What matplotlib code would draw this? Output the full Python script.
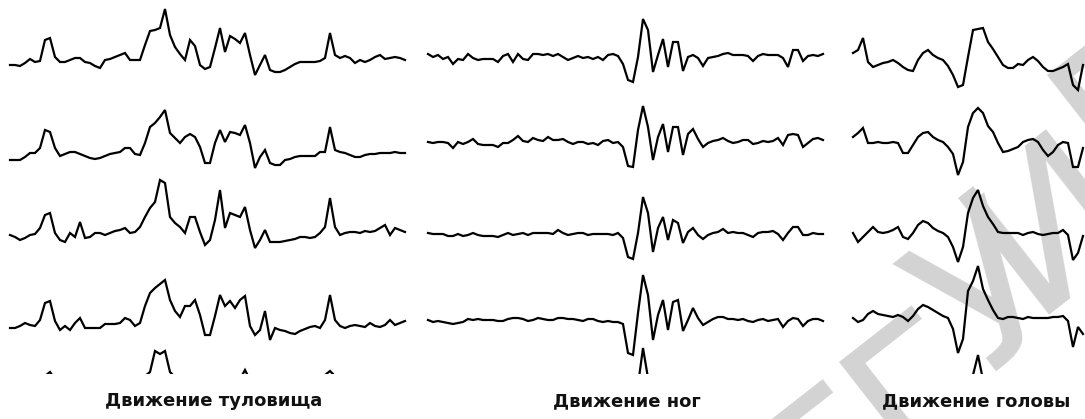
import numpy as np
import matplotlib
matplotlib.use("Agg")
import matplotlib.pyplot as plt

# amplitudes of each channel, one sample every 5 px of the original record
# (arbitrary units, positive = up)
trunk_1 = [-2, -2, -3, 0, 4, 1, 2, 23, 25, 6,
           1, 1, 3, 5, 5, 1, 0, -3, -5, 3,
           4, 6, 8, 10, 3, 3, 3, 18, 32, 33,
           35, 54, 28, 16, 9, 3, 23, 17, -2, -6,
           -4, 15, 35, 11, 27, 24, 20, 30, 8, -12,
           -2, 8, -7, -9, -9, -7, -4, -1, 1, 1,
           1, 1, 2, 5, 30, 8, 5, 7, 5, 0,
           3, 1, 3, 6, 8, 4, 5, 6, 5, 3]
trunk_2 = [-3, -3, -3, 0, 4, 4, 9, 27, 25, 9,
           1, 3, 5, 5, 3, 1, -1, -2, -1, 1,
           3, 4, 5, 9, 9, 3, 2, 14, 30, 34,
           40, 47, 24, 19, 14, 20, 23, 20, 10, -6,
           -6, 14, 27, 15, 25, 24, 22, 32, 14, -11,
           0, 7, -6, -8, -8, -3, -2, 0, 1, 1,
           1, 1, 5, 5, 30, 7, 5, 4, 2, 0,
           0, 2, 3, 3, 4, 4, 4, 5, 4, 4]
trunk_3 = [2, 0, -3, -1, 2, 3, 9, 22, 24, 4,
           -3, -5, 4, 0, 15, -1, 0, 4, 4, 2,
           4, 6, 7, 9, 4, 5, 10, 20, 29, 35,
           57, 54, 20, 14, 10, 4, 20, 20, 5, -8,
           -3, 17, 47, 9, 24, 22, 20, 30, 7, -11,
           -3, 7, -5, -5, -5, -4, -3, -2, 0, 0,
           -1, 0, 4, 10, 39, 10, 2, 4, 5, 5,
           4, 6, 5, 6, 9, 12, 2, 9, 7, 5]
trunk_4 = [0, 0, 2, 5, 3, 2, 8, 25, 27, 7,
           -2, 2, -2, 5, 10, 0, 0, 0, 0, 4,
           4, 4, 5, 10, 8, 2, 5, 22, 35, 40,
           44, 48, 28, 17, 11, 22, 22, 28, 13, -7,
           -7, 12, 33, 22, 27, 20, 28, 32, 2, -7,
           -2, 17, -12, 0, -2, -3, -5, -6, -3, -1,
           1, 2, 0, 8, 33, 8, 2, 0, 2, 3,
           2, 1, 5, 2, 1, 3, 8, 3, 5, 7]
trunk_5 = [0, 1, 2, 4, 3, 2, 5, 9, 13, 6,
           2, 1, 0, 2, 3, 5, 4, 2, 1, 0,
           -1, 0, 2, 3, 4, 5, 7, 9, 13, 34,
           31, 34, 13, 8, 6, 9, 5, -3, -2, 6,
           -4, 0, 2, 5, 3, 4, 6, 15, 5, 0,
           -1, 0, 1, 2, 3, 3, 4, 4, 3, 4,
           6, 8, 9, 10, 14, 9, 4, 2, 3, 2,
           1, 3, 4, 2, 3, 5, 3, 4, 5, 6]

legs_1 = [3, 0, 2, -2, 0, -7, -2, -3, 3, -1,
          -3, -2, -2, -2, -5, 1, 3, -5, 3, -2,
          -3, 3, 3, 2, 3, 1, 3, 0, -3, -1,
          1, -1, 0, -2, 0, -3, 2, 3, 1, -7,
          -23, -25, 0, 38, 27, -15, 2, 18, -10, 15,
          15, -14, 0, 2, -1, -9, -1, 0, 1, 3,
          4, 2, 2, 2, 1, -4, 1, 3, 2, 2,
          2, -1, -10, 7, 7, -4, 1, 2, 1, 3]
legs_2 = [0, -1, 0, 0, -1, -6, 0, -2, 0, 3,
          -2, -3, -3, -3, -5, -1, -1, 2, 6, 1,
          0, 4, 2, 1, 5, 2, 2, 3, 0, -2,
          0, 0, -2, -1, -3, 1, 2, -1, 0, -5,
          -24, -25, 12, 36, 15, -18, 5, 18, -10, 15,
          15, -13, 8, 13, 3, -5, -1, 1, 2, 4,
          1, -1, 0, 2, 2, -2, -1, 1, 0, 1,
          4, -3, 7, 8, 7, -5, -1, 3, 4, 2]
legs_3 = [1, 0, 0, 0, -2, -2, 0, -2, -1, 1,
          -1, -2, -2, -2, -3, -1, 1, -1, 0, 1,
          -1, 1, 1, 1, 1, 0, 4, 1, -1, 0,
          1, 1, -1, 0, 0, 0, 0, -1, 1, -4,
          -23, -25, 1, 37, 21, -18, 6, 17, -6, 14,
          11, -9, 2, 6, -1, -5, -1, 1, 2, 5,
          1, 2, 1, 1, -1, -3, 1, 2, 2, 3,
          0, -6, 1, 7, 7, -1, -1, 1, 0, 0]
legs_4 = [0, -2, -1, -2, -3, -4, -3, -2, 1, 0,
          1, 0, 0, 0, -1, -1, 1, 2, 2, 1,
          -1, 0, 2, 1, 0, 0, 2, 2, 1, 1,
          0, -1, 1, 1, -1, -2, -1, -2, -2, -4,
          -33, -35, 7, 45, 25, -20, 5, 20, -10, 18,
          20, -11, 0, 12, 2, -5, -2, 1, 3, 3,
          1, 1, 0, 1, -1, -2, 0, 1, -1, 0,
          1, -7, -1, 2, 1, -6, -1, 1, 1, -1]
legs_5 = [0, -1, 0, 1, 0, -2, 0, -1, 1, 2,
          -1, -2, -1, -2, -3, -1, 0, 2, 3, 1,
          0, 1, 2, 1, 0, -1, 1, 2, 0, 1,
          3, 2, 0, 1, 2, 0, 1, -1, -2, -1,
          -30, -32, 8, 45, 15, -15, 4, 12, -8, 10,
          9, -9, 0, 8, 2, -4, -1, 1, 2, 3,
          2, 1, 0, 1, 2, 1, -1, -2, 0, 1,
          2, 0, -1, -5, 6, 7, -4, 0, 2, 1]

head_1 = [10, 13, 25, 1, -4, -2, 0, 1, 3, 0,
          -4, -7, -8, 3, 10, 13, 8, 5, 3, -3,
          -12, -24, -22, 6, 33, 34, 35, 21, 14, 6,
          -2, -5, -5, -1, -2, 3, 6, 2, -4, -8,
          -8, -6, -4, -1, -22, -27, -2]
head_2 = [3, 7, 12, -3, -3, -2, -3, -3, -2, -3,
          -13, -13, -5, 3, 7, 8, 3, 0, -2, -7,
          -14, -35, -22, 13, 27, 32, 27, 14, 8, -3,
          -12, -11, -9, -7, -2, 0, 1, -2, -10, -16,
          -12, -5, -2, -3, -27, -27, -8]
head_3 = [2, -7, -2, 3, 8, 3, 2, 3, 5, 8,
          -2, -4, 2, 10, 14, 12, 7, 4, 2, -2,
          -12, -27, -12, 22, 37, 45, 29, 18, 11, 3,
          2, 2, 2, 2, 0, 2, 3, 1, 0, 1,
          2, 2, 5, 0, -25, -18, -1]
head_4 = [0, -4, -2, 4, 7, 4, 3, 2, 1, 3,
          1, -3, 2, 9, 13, 11, 8, 5, 2, 0,
          -11, -35, -21, 27, 37, 52, 29, 18, 8, 0,
          -1, 1, 1, 0, -1, 1, 0, 0, 0, 0,
          1, 1, 2, -3, -29, -9, -16]
head_5 = [0, -2, -1, 2, 3, 1, 0, 2, 3, 4,
          1, -2, -3, 1, 6, 9, 8, 5, 2, 0,
          -3, -10, -28, -15, 35, 55, 30, 16, 8, 2,
          0, 1, 1, 0, 1, 0, 1, 0, 0, 1,
          1, 2, 0, -20, -8, -10, -2]

titles = ["Движение туловища", "Движение ног", "Движение головы"]
watermark = "БГУИР"

# layout (pixels of the 1085x419 canvas)
W, H = 1085, 419
STEP = 5
CLIP = 374
panels = [
    (10, [trunk_1, trunk_2, trunk_3, trunk_4, trunk_5], [63, 157, 237, 328, 385], 214),
    (428, [legs_1, legs_2, legs_3, legs_4, legs_5], [57, 142, 234, 320, 393], 627),
    (853, [head_1, head_2, head_3, head_4, head_5], [63, 140, 235, 318, 410], 976),
]
# baseline origin of every watermark letter
wm_pos = [(820, 555), (910, 479), (981, 381), (1029, 315), (1118, 192)]

fig = plt.figure(figsize=(W / 100, H / 100), dpi=100)
fig.patch.set_facecolor("white")

# faint diagonal watermark behind the traces
for ch, (px, py) in zip(watermark, wm_pos):
    fig.text(px / W, 1 - py / H, ch, rotation=38, rotation_mode="anchor",
             ha="left", va="baseline", fontsize=146, color="#d3d3d3",
             family="DejaVu Sans", zorder=-1)

for x0, traces, baselines, label_x in panels:
    n = len(traces[0])
    ax = fig.add_axes([(x0 - STEP / 2) / W, 1 - CLIP / H, STEP * n / W, CLIP / H])
    ax.axis("off")
    ax.set_xlim(-0.5, n - 0.5)
    ax.set_ylim(-CLIP, 0)
    for vals, base in zip(traces, baselines):
        v = np.asarray(vals, dtype=float)
        ax.plot(np.arange(len(v)), v - base, color="black", lw=1.6,
                solid_joinstyle="miter")

for (x0, traces, baselines, label_x), title in zip(panels, titles):
    fig.text(label_x / W, 1 - 401 / H, title, ha="center", va="center",
             fontsize=13, fontweight="bold", family="DejaVu Sans", color="#111111")

fig.savefig("out.png", dpi=100, facecolor="white")
